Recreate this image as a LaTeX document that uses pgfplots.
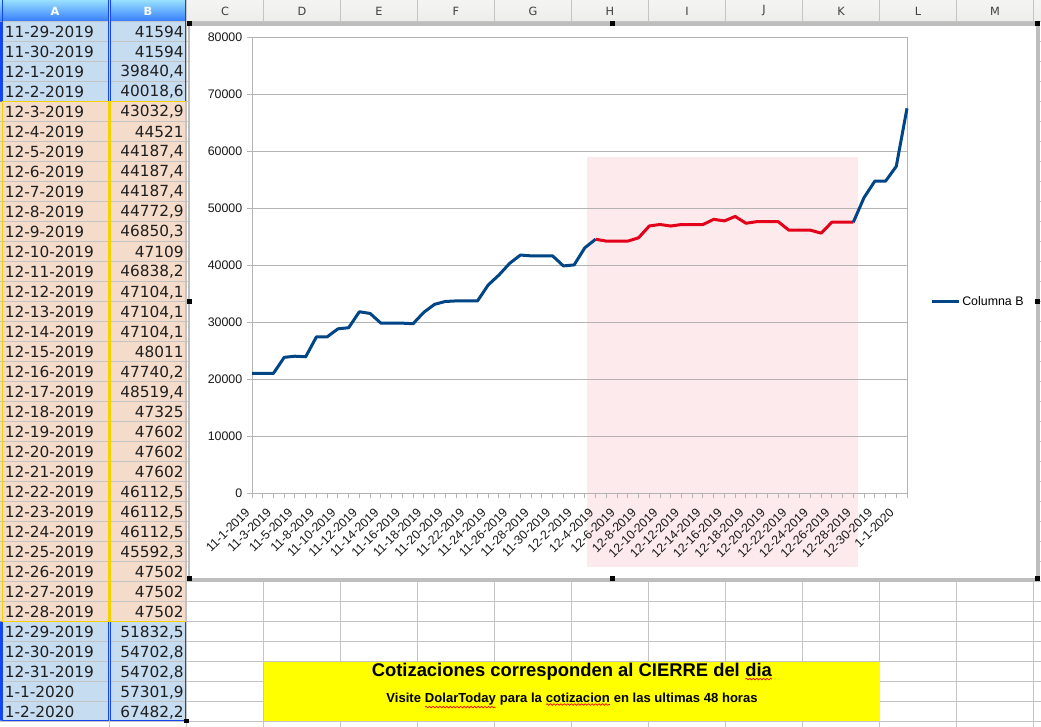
\documentclass[border=0pt]{standalone}
\usepackage{pgfplots}
\pgfplotsset{compat=1.18}
\usepackage{pgfplotstable}
\usepackage{fontspec}
\setmainfont{Liberation Sans}
\newfontfamily\dejavu{DejaVu Sans}
\usetikzlibrary{decorations.pathmorphing}

\definecolor{serie}{HTML}{004586}
\definecolor{rojo}{HTML}{E2001A}
\definecolor{rosa}{HTML}{FCEAEC}
\definecolor{celdaazul}{HTML}{C6DCF1}
\definecolor{celdanaranja}{HTML}{F5DCCA}
\definecolor{rejilla}{HTML}{C4C4C4}
\definecolor{ejes}{HTML}{B3B3B3}
\definecolor{marco}{HTML}{BEBEBE}
\definecolor{bordeazul}{HTML}{1446F0}
\definecolor{bordeamarillo}{HTML}{F5D200}
\definecolor{cabecera}{HTML}{EDEDEB}
\definecolor{amarillo}{HTML}{FFFF00}

% precio de cierre por dia (indice de categoria, valor)
\pgfplotstableread{
x y
0 21000
1 21000
2 21000
3 23800
4 24000
5 23900
6 27400
7 27400
8 28800
9 29000
10 31800
11 31500
12 29800
13 29800
14 29800
15 29700
16 31700
17 33100
18 33600
19 33700
20 33700
21 33700
22 36500
23 38250
24 40300
25 41750
26 41600
27 41594
28 41594
29 39840.4
30 40018.6
31 43032.9
32 44521
33 44187.4
34 44187.4
35 44187.4
36 44772.9
37 46850.3
38 47109
39 46838.2
40 47104.1
41 47104.1
42 47104.1
43 48011
44 47740.2
45 48519.4
46 47325
47 47602
48 47602
49 47602
50 46112.5
51 46112.5
52 46112.5
53 45592.3
54 47502
55 47502
56 47502
57 51832.5
58 54702.8
59 54702.8
60 57301.9
61 67482.2
}\datos

% subrayado ondulado del corrector
\newcommand{\spw}[1]{\tikz[baseline=(w.base)]{\node[inner sep=0pt,outer sep=0pt](w){#1};
  \draw[red,line width=0.5pt,decorate,decoration={snake,amplitude=0.6pt,segment length=2.6pt}]
  ([yshift=-1.6pt]w.south west) -- ([yshift=-1.6pt]w.south east);}}

\begin{document}
\begin{tikzpicture}
\begin{scope}[x=0.75pt,y=-0.75pt]
\useasboundingbox (0,0) rectangle (1041,727);
\fill[white] (0,0) rectangle (1041,727);

% cabecera de columnas
\shade[top color=cabecera!60!white,bottom color=cabecera] (186.5,0) rectangle (1041,21.7);
\shade[top color=blue!30!cyan!40!white,bottom color=blue!65!cyan!80!white] (0,0) rectangle (186.5,21.7);
\foreach \c/\xc in {C/225,D/302,E/379,F/456,G/533,H/610,I/687,J/764,K/841,L/918,M/995}
  \node[text=black!75,font=\dejavu\fontsize{8.5}{10}\selectfont] at (\xc,11) {\c};
\node[text=white,font=\dejavu\bfseries\fontsize{8.5}{10}\selectfont] at (55,11) {A};
\node[text=white,font=\dejavu\bfseries\fontsize{8.5}{10}\selectfont] at (148,11) {B};

% celdas coloreadas
\fill[celdaazul] (0,21.7) rectangle (186.5,101.7);
\fill[celdanaranja] (0,101.7) rectangle (186.5,621.7);
\fill[celdaazul] (0,621.7) rectangle (186.5,720.7);

% rejilla de la hoja
\foreach \k in {0,...,35}
  \draw[rejilla,line width=0.75pt] (0,{21.7+20*\k}) -- (1041,{21.7+20*\k});
\foreach \xx in {109.3,186.5,263.5,340.5,417.5,494.5,571.5,648.5,725.5,802.5,879.5,956.5,1033.5}
  \draw[rejilla,line width=0.75pt] (\xx,0) -- (\xx,727);

% cuadro amarillo
\fill[amarillo] (263.5,661.7) rectangle (880,720.7);
\node[font=\bfseries\fontsize{13.8}{15}\selectfont] at (572,672)
  {Cotizaciones corresponden al CIERRE del \spw{dia}};
\node[font=\bfseries\fontsize{9.8}{12}\selectfont] at (572,700.5)
  {Visite \spw{DolarToday} para la \spw{cotizacion} en las ultimas 48 horas};

% columnas A y B
\foreach \d/\v [count=\i] in {11-29-2019/41594,11-30-2019/41594,12-1-2019/{39840,4},12-2-2019/{40018,6},
  12-3-2019/{43032,9},12-4-2019/44521,12-5-2019/{44187,4},12-6-2019/{44187,4},12-7-2019/{44187,4},
  12-8-2019/{44772,9},12-9-2019/{46850,3},12-10-2019/47109,12-11-2019/{46838,2},12-12-2019/{47104,1},
  12-13-2019/{47104,1},12-14-2019/{47104,1},12-15-2019/48011,12-16-2019/{47740,2},12-17-2019/{48519,4},
  12-18-2019/47325,12-19-2019/47602,12-20-2019/47602,12-21-2019/47602,12-22-2019/{46112,5},
  12-23-2019/{46112,5},12-24-2019/{46112,5},12-25-2019/{45592,3},12-26-2019/47502,12-27-2019/47502,
  12-28-2019/47502,12-29-2019/{51832,5},12-30-2019/{54702,8},12-31-2019/{54702,8},1-1-2020/{57301,9},
  1-2-2020/{67482,2}}{
  \node[anchor=west,inner sep=0pt,text=black!88,font=\dejavu\fontsize{11.5}{13}\selectfont]
    at (4.5,{32.2+20*(\i-1)}) {\d};
  \node[anchor=east,inner sep=0pt,text=black!88,font=\dejavu\fontsize{11.5}{13}\selectfont]
    at (184,{32.2+20*(\i-1)}) {\v};
}

% bordes de los rangos
\fill[bordeazul] (0,21.7) rectangle (2,101.7) (0,621.7) rectangle (2,720.7);
\draw[bordeazul,line width=1.1pt] (2.5,0) -- (2.5,101.7) (108.3,0) -- (108.3,101.7)
  (110.3,0) -- (110.3,101.7) (185.3,0) -- (185.3,101.7);
\draw[bordeazul,line width=1.1pt] (2.5,621.7) rectangle (108.3,720.7) (110.3,621.7) rectangle (185.3,720.7);
\draw[bordeamarillo,line width=1.1pt] (2.5,101.7) rectangle (108.3,621.7) (110.3,101.7) rectangle (185.3,621.7);
\fill[black] (184,718.5) rectangle (188.5,723);

% area del grafico
\fill[white] (189,23.7) rectangle (1036,578);
\fill[rosa] (587,157) rectangle (858,567);
\draw[marco,line width=3pt] (188,23.7) -- (1038,23.7) -- (1038,579.5) -- (188,579.5);
\draw[marco,line width=1.2pt] (189,23.7) -- (189,579.5);
\end{scope}

\begin{axis}[
  at={(189pt,-369.75pt)}, anchor=south west,
  scale only axis, width=491.25pt, height=342pt,
  xmin=0, xmax=61, ymin=0, ymax=80000,
  axis line style={draw=ejes,line width=0.75pt},
  tick pos=left, tick align=outside,
  major tick length=3.75pt, minor tick length=3.75pt,
  tick style={draw=ejes,line width=0.75pt},
  ymajorgrids, grid style={draw=ejes,line width=0.75pt},
  xtick={0,2,...,60},
  minor xtick={1,3,...,61},
  xticklabels={11-1-2019,11-3-2019,11-5-2019,11-8-2019,11-10-2019,11-12-2019,11-14-2019,
    11-16-2019,11-18-2019,11-20-2019,11-22-2019,11-24-2019,11-26-2019,11-28-2019,11-30-2019,
    12-2-2019,12-4-2019,12-6-2019,12-8-2019,12-10-2019,12-12-2019,12-14-2019,12-16-2019,
    12-18-2019,12-20-2019,12-22-2019,12-24-2019,12-26-2019,12-28-2019,12-30-2019,1-1-2020},
  ytick={0,10000,...,80000},
  scaled y ticks=false,
  /pgf/number format/fixed,
  /pgf/number format/set thousands separator={},
  /pgf/number format/assume math mode=true,
  ticklabel style={font=\fontsize{9.3}{11}\selectfont,text=black!90},
  xticklabel style={xshift=-2.5pt,yshift=-8.5pt,rotate=45,anchor=east,inner sep=1pt},
  legend style={draw=none,fill=none,at={(1.0351,0.4189)},anchor=west,inner sep=0pt,
    font=\fontsize{9.3}{11}\selectfont,nodes={inner sep=1.5pt}},
  legend image code/.code={\draw[#1] (0pt,0pt) -- (20.25pt,0pt);},
  clip=false,
]
\addplot[serie,line width=2.25pt,line join=round,restrict x to domain=0:32] table[x=x,y=y]{\datos};
\addlegendentry{Columna B}
\addplot[rojo,line width=2.25pt,line join=round,restrict x to domain=32:56,forget plot] table[x=x,y=y]{\datos};
\addplot[serie,line width=2.25pt,line join=round,restrict x to domain=56:61,forget plot] table[x=x,y=y]{\datos};
\end{axis}

% asas de seleccion del grafico
\begin{scope}[x=0.75pt,y=-0.75pt]
\foreach \hx in {189,612,1037}
  \foreach \hy in {23.5,578.5}
    \fill[black] (\hx-2.5,\hy-2.5) rectangle (\hx+2.5,\hy+2.5);
\fill[black] (186.5,298.5) rectangle (191.5,303.5);
\fill[black] (1034.5,298.5) rectangle (1039.5,303.5);
\end{scope}
\end{tikzpicture}
\end{document}
